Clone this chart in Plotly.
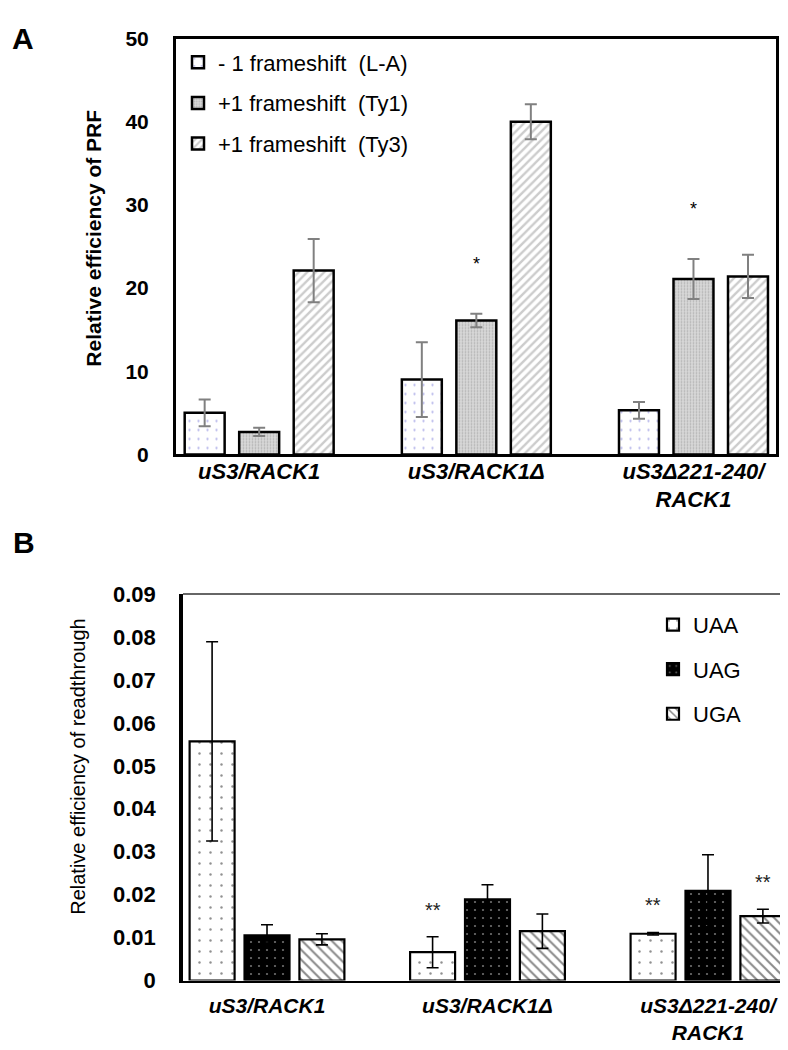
import plotly.graph_objects as go

# ---------------- data ----------------
categories = ["uS3/RACK1", "uS3/RACK1Δ", "uS3Δ221-240/RACK1"]
tick_labels = ["uS3/RACK1", "uS3/RACK1Δ", "uS3Δ221-240/<br>RACK1"]

# Panel A: relative efficiency of PRF
prf_names = ["- 1 frameshift\u00a0 (L-A)", "+1 frameshift\u00a0 (Ty1)", "+1 frameshift\u00a0 (Ty3)"]
prf_la = [5.0, 9.0, 5.3]
prf_la_err = [1.6, 4.5, 1.0]
prf_ty1 = [2.7, 16.1, 21.1]
prf_ty1_err = [0.5, 0.8, 2.4]
prf_ty3 = [22.1, 40.0, 21.4]
prf_ty3_err = [3.8, 2.1, 2.6]
prf_la_sig = ["", "", ""]
prf_ty1_sig = ["", "*", "*"]
prf_ty3_sig = ["", "", ""]

# Panel B: relative efficiency of readthrough
rt_names = ["UAA", "UAG", "UGA"]
rt_uaa = [0.0557, 0.0066, 0.0109]
rt_uaa_err = [0.0232, 0.0036, 0.0003]
rt_uag = [0.0105, 0.0189, 0.0209]
rt_uag_err = [0.0025, 0.0034, 0.0084]
rt_uga = [0.0096, 0.0115, 0.0150]
rt_uga_err = [0.0013, 0.0040, 0.0016]
rt_uaa_sig = ["", "**", "**"]
rt_uag_sig = ["", "", ""]
rt_uga_sig = ["", "", "**"]

# ---------------- styling ----------------
W, H = 788, 1050
FONT = "Liberation Sans, Arial, sans-serif"
x_idx = list(range(len(categories)))


def px_x(p):
    return p / W


def px_y(p):
    return 1 - p / H


A_dom_x = [px_x(168), px_x(768)]
A_dom_y = [px_y(445), px_y(19)]
B_dom_x = [px_x(175), px_x(782)]
B_dom_y = [px_y(984), px_y(588)]

A_bw, A_sp = 0.184, 0.251
B_bw, B_sp = 0.204, 0.249

styleA = [
    dict(shape=".", fgcolor="#6f6fd6", bgcolor="white", size=9, solidity=0.05),
    dict(shape=".", fgcolor="#8c8c8c", bgcolor="#d9d9d9", size=3, solidity=0.3),
    dict(shape="/", fgcolor="#9a9a9a", bgcolor="white", size=6, solidity=0.4),
]
styleB = [
    dict(shape=".", fgcolor="#222222", bgcolor="white", size=11, solidity=0.04),
    dict(shape=".", fgcolor="#dddddd", bgcolor="black", size=8, solidity=0.06),
    dict(shape="\\", fgcolor="#111111", bgcolor="white", size=7, solidity=0.28),
]

fig = go.Figure()
annotations = []

A_series = [
    (prf_names[0], prf_la, prf_la_err, prf_la_sig),
    (prf_names[1], prf_ty1, prf_ty1_err, prf_ty1_sig),
    (prf_names[2], prf_ty3, prf_ty3_err, prf_ty3_sig),
]
for j, (name, vals, errs, sig) in enumerate(A_series):
    off = (j - 1) * A_sp
    fig.add_trace(go.Bar(
        x=x_idx, y=vals, name=name, width=A_bw, offset=off - A_bw / 2,
        marker=dict(color=styleA[j]["bgcolor"], line=dict(color="black", width=2.5),
                    pattern=styleA[j]),
        error_y=dict(type="data", array=errs, visible=True, color="#808080",
                     thickness=2, width=6),
        xaxis="x", yaxis="y", legend="legend", legendgroup="a%d" % j,
    ))
    for i, s in enumerate(sig):
        if s:
            annotations.append(dict(
                x=x_idx[i] + off, y=vals[i] + errs[i], xref="x", yref="y",
                text=s, showarrow=False, yanchor="bottom", yshift=38,
                font=dict(size=18, family=FONT, color="black")))

B_series = [
    (rt_names[0], rt_uaa, rt_uaa_err, rt_uaa_sig),
    (rt_names[1], rt_uag, rt_uag_err, rt_uag_sig),
    (rt_names[2], rt_uga, rt_uga_err, rt_uga_sig),
]
for j, (name, vals, errs, sig) in enumerate(B_series):
    off = (j - 1) * B_sp
    fig.add_trace(go.Bar(
        x=x_idx, y=vals, name=name, width=B_bw, offset=off - B_bw / 2,
        marker=dict(color=styleB[j]["bgcolor"], line=dict(color="black", width=2.2),
                    pattern=styleB[j]),
        error_y=dict(type="data", array=errs, visible=True, color="black",
                     thickness=1.6, width=6),
        xaxis="x2", yaxis="y2", legend="legend2", legendgroup="b%d" % j,
    ))
    for i, s in enumerate(sig):
        if s:
            annotations.append(dict(
                x=x_idx[i] + off, y=vals[i] + errs[i], xref="x2", yref="y2",
                text=s, showarrow=False, yanchor="bottom", yshift=14,
                font=dict(size=20, family=FONT, color="#222")))

# axis titles & panel letters
annotations += [
    dict(x=px_x(86), y=px_y(224), xref="paper", yref="paper", text="<b>Relative efficiency of PRF</b>",
         textangle=-90, showarrow=False, xanchor="center", yanchor="middle",
         font=dict(size=21, family=FONT, color="black")),
    dict(x=px_x(70), y=px_y(765), xref="paper", yref="paper", text="Relative efficiency of readthrough",
         textangle=-90, showarrow=False, xanchor="center", yanchor="middle",
         font=dict(size=20, family=FONT, color="black")),
    dict(x=px_x(15), y=px_y(19), xref="paper", yref="paper", text="<b>A</b>",
         showarrow=False, xanchor="center", yanchor="middle",
         font=dict(size=30, family=FONT, color="black")),
    dict(x=px_x(16), y=px_y(535), xref="paper", yref="paper", text="<b>B</b>",
         showarrow=False, xanchor="center", yanchor="middle",
         font=dict(size=30, family=FONT, color="black")),
]

common_x = dict(tickmode="array", tickvals=x_idx, ticktext=tick_labels,
                showgrid=False, zeroline=False, showline=True, linecolor="black")
common_y = dict(showgrid=False, zeroline=False, showline=True, linecolor="black",
                ticks="outside", tickcolor="rgba(0,0,0,0)")

fig.update_layout(
    width=W, height=H,
    margin=dict(l=0, r=0, t=0, b=0),
    paper_bgcolor="white", plot_bgcolor="white",
    barmode="overlay",
    font=dict(family=FONT, color="black"),
    xaxis=dict(domain=A_dom_x, range=[-0.383, 2.380], anchor="y", linewidth=3, mirror=True,
               ticks="", ticklabelstandoff=-5,
               tickfont=dict(size=22, family=FONT, color="black", weight="bold", style="italic"),
               **common_x),
    yaxis=dict(domain=A_dom_y, range=[0, 50], dtick=10, anchor="x", linewidth=3, mirror=True,
               ticklen=20, tickfont=dict(size=21, family=FONT, color="black", weight="bold"),
               **common_y),
    xaxis2=dict(domain=B_dom_x, range=[-0.381, 2.372], anchor="y2", linewidth=2,
                ticks="outside", ticklen=5, tickcolor="rgba(0,0,0,0)",
                tickfont=dict(size=21, family=FONT, color="black", weight="bold", style="italic"),
                **common_x),
    yaxis2=dict(domain=B_dom_y, range=[0, 0.09], dtick=0.01, anchor="x2", linewidth=3.5,
                ticklen=19, tickfont=dict(size=22, family=FONT, color="black", weight="bold"),
                **common_y),
    legend=dict(x=px_x(170), y=px_y(22), xanchor="left", yanchor="top",
                bgcolor="rgba(0,0,0,0)", font=dict(size=22, family=FONT, color="black"),
                tracegroupgap=9, traceorder="grouped"),
    legend2=dict(x=px_x(645), y=px_y(598), xanchor="left", yanchor="top",
                 bgcolor="rgba(0,0,0,0)", font=dict(size=22, family=FONT, color="black"),
                 tracegroupgap=13, traceorder="grouped"),
    annotations=annotations,
    shapes=[
        dict(type="line", xref="x2 domain", yref="y2 domain", x0=0, x1=1, y0=1, y1=1,
             line=dict(color="#333333", width=1.5)),
        dict(type="line", xref="x2 domain", yref="y2 domain", x0=1, x1=1, y0=0, y1=1,
             line=dict(color="#333333", width=1.5)),
    ],
)

fig.write_html("out.html")
